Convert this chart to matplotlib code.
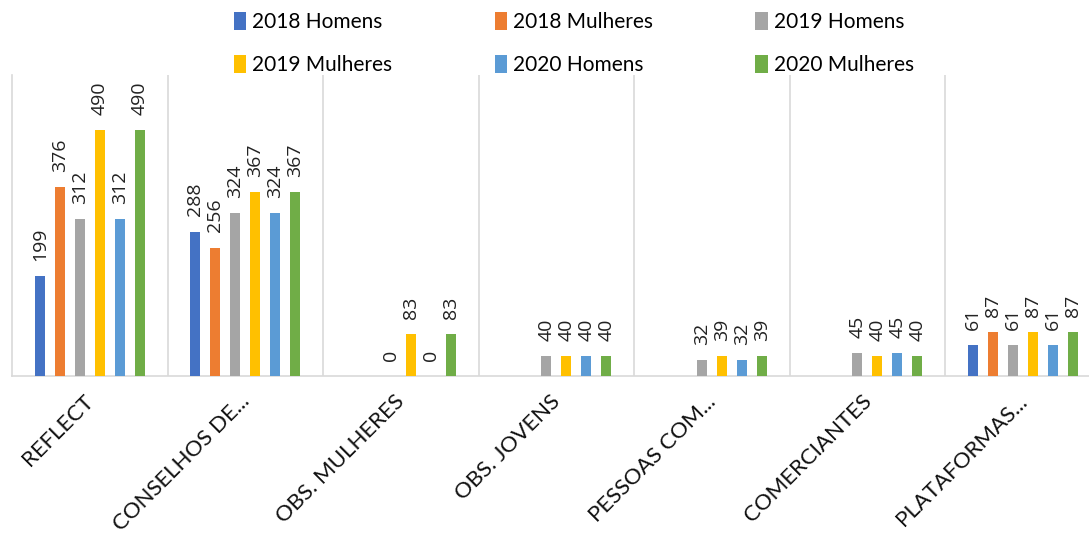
import matplotlib.pyplot as plt
import numpy as np

categorias = ["REFLECT", "CONSELHOS DE...", "OBS. MULHERES", "OBS. JOVENS",
              "PESSOAS COM...", "COMERCIANTES", "PLATAFORMAS..."]
series = ["2018 Homens", "2018 Mulheres", "2019 Homens",
          "2019 Mulheres", "2020 Homens", "2020 Mulheres"]
cores = ["#4472C4", "#ED7D31", "#A5A5A5", "#FFC000", "#5B9BD5", "#70AD47"]

nan = np.nan
h2018 = [199, 288, nan, nan, nan, nan, 61]
m2018 = [376, 256, nan, nan, nan, nan, 87]
h2019 = [312, 324, 0, 40, 32, 45, 61]
m2019 = [490, 367, 83, 40, 39, 40, 87]
h2020 = [312, 324, 0, 40, 32, 45, 61]
m2020 = [490, 367, 83, 40, 39, 40, 87]
valores = [h2018, m2018, h2019, m2019, h2020, m2020]


def main():
    fig = plt.figure(figsize=(10.89, 5.43), dpi=100)
    ax = fig.add_axes([12 / 1089, 1 - 376 / 543, 1088.5 / 1089, 301 / 543])

    x = np.arange(len(categorias))
    passo = 0.1286
    larg = 0.065
    for i, (nome, v, c) in enumerate(zip(series, valores, cores)):
        pos = x + (i - 2.5) * passo
        barras = ax.bar(pos, v, larg, color=c, label=nome, zorder=3)
        rot = ["" if np.isnan(a) else str(int(a)) for a in v]
        ax.bar_label(barras, labels=rot, rotation=90, padding=11,
                     fontsize=14, family="Open Sans", color="#222222")

    ax.set_xlim(-0.5, len(categorias) - 0.5)
    ax.set_ylim(0, 600)
    ax.set_yticks([])
    ax.set_xticks(x - 0.04)
    ax.set_xticklabels(categorias, rotation=45, ha="right", rotation_mode="anchor",
                       fontsize=16, family="Lato", color="#111111")
    ax.tick_params(axis="x", length=0, pad=11)
    for b in np.arange(0.5, len(categorias) - 0.5, 1.0):
        ax.axvline(b, color="#D9D9D9", lw=1.2, zorder=1)
    for s in ["top", "right"]:
        ax.spines[s].set_visible(False)
    ax.spines["left"].set_color("#D9D9D9")
    ax.spines["bottom"].set_color("#D9D9D9")
    ax.spines["left"].set_linewidth(1.2)
    ax.spines["bottom"].set_linewidth(1.2)

    # legenda preenchida por linhas, como no original
    h, l = ax.get_legend_handles_labels()
    ordem = [0, 3, 1, 4, 2, 5]
    fig.legend([h[k] for k in ordem], [l[k] for k in ordem],
               loc="upper center", bbox_to_anchor=(0.527, 1.012), ncol=3, frameon=False,
               prop={"family": "Lato", "size": 15}, handlelength=0.6, handleheight=0.9,
               handletextpad=0.3, columnspacing=4.9, labelspacing=1.1)

    fig.savefig("out.png", dpi=100)


if __name__ == "__main__":
    main()
